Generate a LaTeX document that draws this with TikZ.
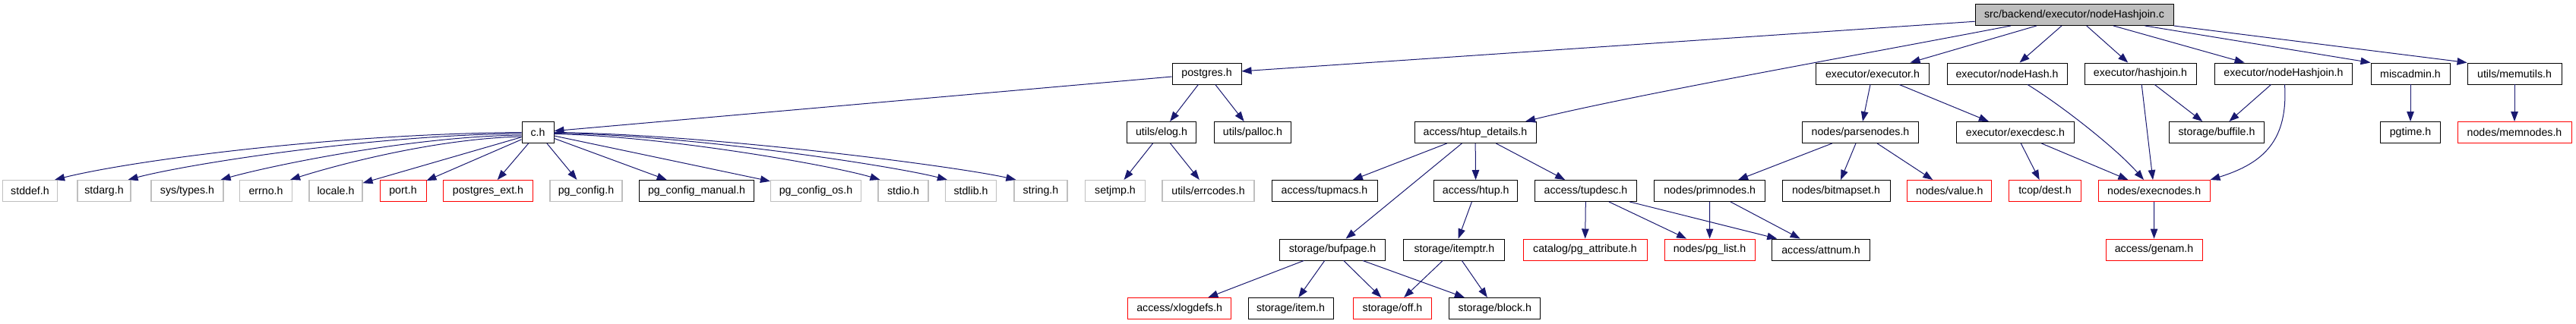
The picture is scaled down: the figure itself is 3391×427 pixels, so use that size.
\documentclass[tikz,border=0pt]{standalone}
\usepackage{fontspec}
\setmainfont{Liberation Sans}
\usetikzlibrary{arrows.meta}
\definecolor{edgec}{HTML}{191970}
\definecolor{greyb}{HTML}{BFBFBF}
\begin{document}
\begin{tikzpicture}[x=1pt,y=-1pt,
  box/.style={draw=black, line width=0.95pt, rectangle, minimum height=28pt, inner sep=0pt, font=\fontsize{14.2}{17}\selectfont, text=black},
  sysbox/.style={box, draw=greyb, line width=1.2pt},
  redbox/.style={box, draw=red},
  mainbox/.style={box, fill=greyb},
  edge/.style={draw=edgec, line width=1pt, -{Triangle[length=13pt,width=9.5pt]}}]
\useasboundingbox (0,0) rectangle (3391,427);
% row 0
\node[mainbox, minimum width=261] (main) at (2730.5,19.5) {src/backend/executor/nodeHashjoin.c};
% row 1
\node[box, minimum width=91] (postgres) at (1588.5,97) {postgres.h};
\node[box, minimum width=149] (executor) at (2465,97) {executor/executor.h};
\node[box, minimum width=158] (nodehash) at (2642,97) {executor/nodeHash.h};
\node[box, minimum width=147] (hashjoin) at (2817.5,97) {executor/hashjoin.h};
\node[box, minimum width=181] (nodehj) at (3006,97) {executor/nodeHashjoin.h};
\node[box, minimum width=104] (miscadmin) at (3173,97) {miscadmin.h};
\node[box, minimum width=124] (memutils) at (3310,97) {utils/memutils.h};
% row 2
\node[box, minimum width=42] (ch) at (708,174.5) {c.h};
\node[box, minimum width=91] (elog) at (1529,174.5) {utils/elog.h};
\node[box, minimum width=101] (palloc) at (1649,174.5) {utils/palloc.h};
\node[box, minimum width=160] (htupd) at (1942,174.5) {access/htup\_details.h};
\node[box, minimum width=153] (parsenodes) at (2449,174.5) {nodes/parsenodes.h};
\node[box, minimum width=155] (execdesc) at (2653,174.5) {executor/execdesc.h};
\node[box, minimum width=125] (buffile) at (2918,174.5) {storage/buffile.h};
\node[box, minimum width=79] (pgtime) at (3173,174.5) {pgtime.h};
\node[redbox, minimum width=150] (memnodes) at (3310,174.5) {nodes/memnodes.h};
% row 3
\node[sysbox, minimum width=72] (stddef) at (39.5,251.5) {stddef.h};
\node[sysbox, minimum width=70] (stdarg) at (137,251.5) {stdarg.h};
\node[sysbox, minimum width=95] (systypes) at (246.5,251.5) {sys/types.h};
\node[sysbox, minimum width=69] (errno) at (350,251.5) {errno.h};
\node[sysbox, minimum width=70] (locale) at (442,251.5) {locale.h};
\node[redbox, minimum width=61] (port) at (530.5,251.5) {port.h};
\node[redbox, minimum width=118] (pgext) at (642.5,251.5) {postgres\_ext.h};
\node[sysbox, minimum width=95] (pgconfig) at (771.5,251.5) {pg\_config.h};
\node[box, minimum width=151] (pgcm) at (917,251.5) {pg\_config\_manual.h};
\node[sysbox, minimum width=119] (pgcos) at (1074,251.5) {pg\_config\_os.h};
\node[sysbox, minimum width=66] (stdio) at (1189,251.5) {stdio.h};
\node[sysbox, minimum width=67] (stdlib) at (1278,251.5) {stdlib.h};
\node[sysbox, minimum width=70] (string) at (1370,251.5) {string.h};
\node[sysbox, minimum width=79] (setjmp) at (1468,251.5) {setjmp.h};
\node[sysbox, minimum width=121] (errcodes) at (1590.5,251.5) {utils/errcodes.h};
\node[box, minimum width=139] (tupmacs) at (1743.5,251.5) {access/tupmacs.h};
\node[box, minimum width=110] (htup) at (1942.7,251.5) {access/htup.h};
\node[box, minimum width=134] (tupdesc) at (2087.5,251.5) {access/tupdesc.h};
\node[box, minimum width=146] (primnodes) at (2250.7,251.5) {nodes/primnodes.h};
\node[box, minimum width=142] (bitmapset) at (2417,251.5) {nodes/bitmapset.h};
\node[redbox, minimum width=111] (value) at (2566.3,251.5) {nodes/value.h};
\node[redbox, minimum width=95] (dest) at (2692,251.5) {tcop/dest.h};
\node[redbox, minimum width=146.5] (execnodes) at (2835.7,251.5) {nodes/execnodes.h};
% row 4
\node[box, minimum width=139] (bufpage) at (1754,329) {storage/bufpage.h};
\node[box, minimum width=133] (itemptr) at (1914.4,329) {storage/itemptr.h};
\node[redbox, minimum width=163] (pgattr) at (2086.5,329) {catalog/pg\_attribute.h};
\node[redbox, minimum width=119] (pglist) at (2250.5,329) {nodes/pg\_list.h};
\node[box, minimum width=129] (attnum) at (2397,329) {access/attnum.h};
\node[redbox, minimum width=127] (genam) at (2835.5,329) {access/genam.h};
% row 5
\node[redbox, minimum width=135.5] (xlogdefs) at (1552.7,406.5) {access/xlogdefs.h};
\node[box, minimum width=112] (item) at (1699,406.5) {storage/item.h};
\node[redbox, minimum width=103] (off) at (1833,406.5) {storage/off.h};
\node[box, minimum width=120] (block) at (1967.8,406.5) {storage/block.h};
% edges from main
\draw[edge] (main) -- (postgres);
\draw[edge] ([xshift=-83.5pt]main.south) .. controls (2450,72) and (2150,125) .. ([xshift=66pt]htupd.north);
\draw[edge] (main) -- (executor);
\draw[edge] (main) -- (nodehash);
\draw[edge] (main) -- (hashjoin);
\draw[edge] (main) -- (nodehj);
\draw[edge] ([xshift=93pt]main.south) -- (miscadmin.north west);
\draw[edge] (main.south east) -- (memutils.north west);
% postgres
\draw[edge] (postgres) -- (ch);
\draw[edge] (postgres) -- (elog);
\draw[edge] (postgres) -- (palloc);
% c.h
\draw[edge] (ch.west) .. controls +(-250,2) and +(100,-25) .. ([xshift=-4pt]stddef.north east);
\draw[edge] ([yshift=-1.5pt]ch.west) .. controls +(-200,2) and +(75,-20) .. ([xshift=-4pt]stdarg.north east);
\draw[edge] ([yshift=-3.5pt]ch.west) .. controls +(-150,2) and +(60,-17) .. ([xshift=-4pt]systypes.north east);
\draw[edge] ([yshift=-5.5pt]ch.west) .. controls +(-120,3) and +(50,-16) .. ([xshift=-3pt]errno.north east);
\draw[edge] (ch) -- (locale);
\draw[edge] (ch) -- (port);
\draw[edge] (ch) -- (pgext);
\draw[edge] (ch) -- (pgconfig);
\draw[edge] (ch) -- (pgcm);
\draw[edge] (ch) -- (pgcos);
\draw[edge] ([yshift=-2pt]ch.east) .. controls +(150,3) and +(-60,-18) .. ([xshift=3pt]stdio.north west);
\draw[edge] ([yshift=-1pt]ch.east) .. controls +(180,2) and +(-70,-18) .. ([xshift=3pt]stdlib.north west);
\draw[edge] (ch.east) .. controls +(200,2) and +(-80,-18) .. ([xshift=3pt]string.north west);
% elog
\draw[edge] (elog) -- (setjmp);
\draw[edge] (elog) -- (errcodes);
% htup_details
\draw[edge] (htupd) -- (tupmacs);
\draw[edge] (htupd) -- (bufpage);
\draw[edge] (htupd) -- (htup);
\draw[edge] (htupd) -- (tupdesc);
\draw[edge] (htup) -- (itemptr);
\draw[edge] (tupdesc) -- (pgattr);
\draw[edge] (tupdesc) -- (pglist);
\draw[edge] (tupdesc) -- (attnum);
\draw[edge] (bufpage) -- (xlogdefs);
\draw[edge] (bufpage) -- (item);
\draw[edge] (bufpage) -- (off);
\draw[edge] (bufpage) -- (block);
\draw[edge] (itemptr) -- (off);
\draw[edge] (itemptr) -- (block);
% executor
\draw[edge] (executor) -- (parsenodes);
\draw[edge] (executor) -- (execdesc);
\draw[edge] (parsenodes) -- (primnodes);
\draw[edge] (parsenodes) -- (bitmapset);
\draw[edge] (parsenodes) -- (value);
\draw[edge] (primnodes) -- (pglist);
\draw[edge] (primnodes) -- (attnum);
\draw[edge] (execdesc) -- (dest);
\draw[edge] (execdesc) -- (execnodes);
\draw[edge] ([xshift=27pt]nodehash.south) .. controls (2720,143) and (2790,200) .. ([xshift=-13.7pt]execnodes.north);
\draw[edge] (hashjoin) -- (buffile);
\draw[edge] (hashjoin) -- (execnodes);
\draw[edge] (nodehj) -- (buffile);
\draw[edge] ([xshift=1.5pt]nodehj.south) .. controls (3012,185) and (2980,215) .. (execnodes.north east);
\draw[edge] (miscadmin) -- (pgtime);
\draw[edge] (memutils) -- (memnodes);
\draw[edge] (execnodes) -- (genam);
\end{tikzpicture}
\end{document}
